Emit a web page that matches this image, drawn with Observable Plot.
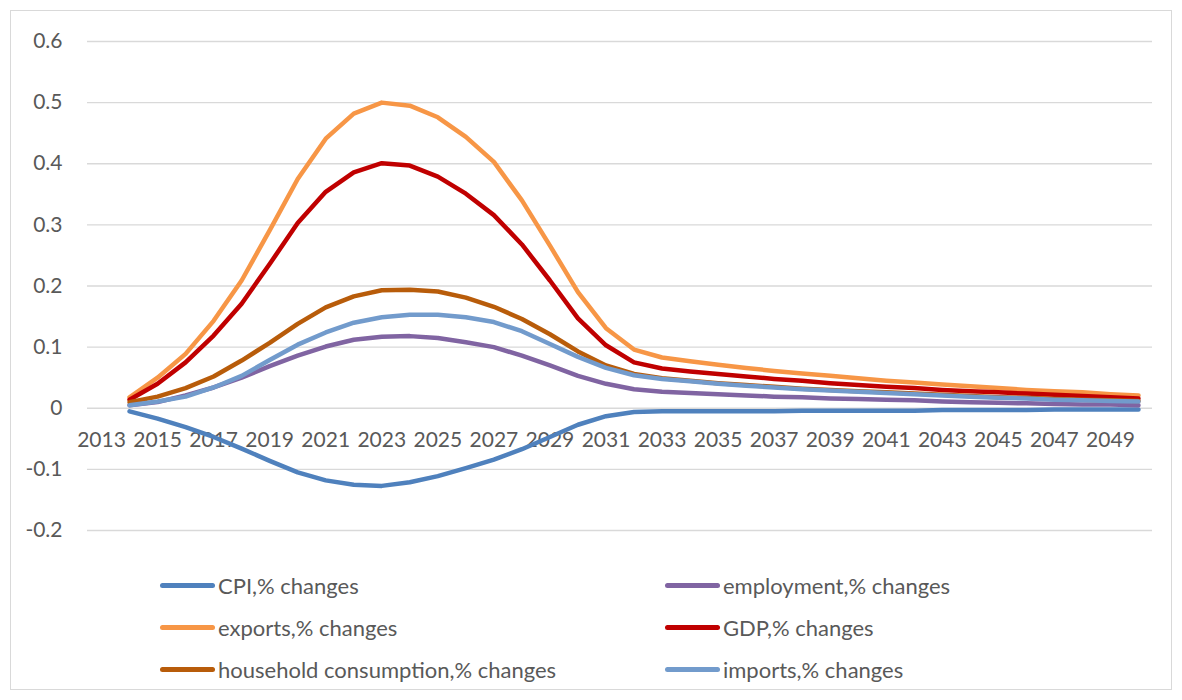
<!DOCTYPE html>
<html>
<head>
<meta charset="utf-8">
<script src="https://cdn.jsdelivr.net/npm/d3@7"></script>
<script src="https://cdn.jsdelivr.net/npm/@observablehq/plot@0.6"></script>
<style>
  body { margin: 0; background: #fff; font-family: Lato, "Open Sans", sans-serif; }
  #frame { position: absolute; left: 10px; top: 10px; width: 1160px; height: 678px; border: 1px solid #d9d9d9; }
  #chart { position: absolute; left: 0; top: 0; }
  .item { position: absolute; display: flex; align-items: center; font-size: 22px; color: #595959; white-space: nowrap; }
  .sw { width: 55px; height: 5px; border-radius: 3px; margin-right: 3px; }
</style>
</head>
<body>
<div id="frame"></div>
<div id="chart"></div>
<div id="legend"></div>
<script>
const years = [2014,2015,2016,2017,2018,2019,2020,2021,2022,2023,2024,2025,2026,2027,2028,2029,2030,2031,2032,
               2033,2034,2035,2036,2037,2038,2039,2040,2041,2042,2043,2044,2045,2046,2047,2048,2049,2050];
const xTickLabels = [2013,2015,2017,2019,2021,2023,2025,2027,2029,2031,2033,2035,2037,2039,2041,2043,2045,2047,2049];
const yTicks = [-0.2,-0.1,0,0.1,0.2,0.3,0.4,0.5,0.6];

const seriesNames = ["CPI,% changes","employment,% changes","exports,% changes","GDP,% changes","household consumption,% changes","imports,% changes"];
const seriesColors = ["#4F81BD","#8064A2","#F79646","#C00000","#B85C0A","#729BCC"];

const cpi = [-0.005,-0.017,-0.031,-0.047,-0.066,-0.086,-0.105,-0.118,-0.125,-0.127,-0.121,-0.111,-0.098,-0.084,-0.067,-0.047,-0.027,-0.013,-0.006,
             -0.005,-0.005,-0.005,-0.005,-0.005,-0.004,-0.004,-0.004,-0.004,-0.004,-0.003,-0.003,-0.003,-0.003,-0.002,-0.002,-0.002,-0.002];
const employment = [0.005,0.010,0.021,0.034,0.050,0.069,0.086,0.101,0.112,0.117,0.118,0.115,0.108,0.100,0.086,0.070,0.053,0.040,0.031,
             0.027,0.025,0.023,0.021,0.019,0.018,0.016,0.015,0.014,0.013,0.011,0.010,0.009,0.008,0.007,0.006,0.006,0.005];
const exportsS = [0.018,0.050,0.089,0.143,0.209,0.291,0.375,0.441,0.482,0.500,0.495,0.476,0.444,0.403,0.340,0.266,0.190,0.131,0.096,
             0.083,0.077,0.071,0.066,0.061,0.057,0.053,0.049,0.045,0.042,0.039,0.036,0.033,0.030,0.028,0.026,0.023,0.021];
const gdp = [0.014,0.040,0.075,0.119,0.171,0.236,0.303,0.354,0.386,0.401,0.397,0.379,0.351,0.316,0.268,0.209,0.147,0.103,0.075,
             0.065,0.060,0.056,0.052,0.048,0.045,0.041,0.038,0.035,0.033,0.030,0.028,0.026,0.024,0.022,0.020,0.018,0.016];
const household = [0.010,0.019,0.033,0.052,0.078,0.107,0.138,0.165,0.183,0.193,0.194,0.191,0.181,0.166,0.146,0.121,0.093,0.070,0.056,
             0.049,0.045,0.041,0.038,0.035,0.032,0.030,0.028,0.026,0.024,0.022,0.020,0.018,0.017,0.015,0.014,0.013,0.012];
const imports = [0.005,0.011,0.019,0.034,0.053,0.079,0.104,0.124,0.140,0.149,0.153,0.153,0.149,0.141,0.126,0.105,0.084,0.066,0.054,
             0.048,0.044,0.040,0.037,0.034,0.031,0.029,0.027,0.025,0.023,0.021,0.019,0.017,0.016,0.014,0.013,0.012,0.011];

const seriesValues = [cpi, employment, exportsS, gdp, household, imports];
const rows = [];
seriesNames.forEach((name, i) => {
  years.forEach((yr, j) => rows.push({series: name, year: yr, value: seriesValues[i][j]}));
});

const font = "Lato, 'Open Sans', sans-serif";
const chart = Plot.plot({
  width: 1182,
  height: 560,
  marginLeft: 87,
  marginRight: 30,
  marginTop: 41,
  marginBottom: 30,
  style: {fontFamily: font, fontSize: "21px", color: "#595959", background: "transparent"},
  x: {domain: [2012.5, 2050.5], axis: null},
  y: {domain: [-0.2, 0.6], axis: null},
  color: {domain: seriesNames, range: seriesColors},
  marks: [
    Plot.gridY(yTicks, {stroke: "#d9d9d9", strokeOpacity: 1, strokeWidth: 1.4}),
    Plot.axisY(yTicks, {tickSize: 0, tickPadding: 25, fontSize: 21, fill: "#595959", label: null,
      tickFormat: d => String(Math.round(d * 10) / 10)}),
    Plot.text(xTickLabels, {x: d => d, y: 0, dy: 32, text: d => String(d), fill: "#595959", fontSize: 21}),
    Plot.line(rows, {x: "year", y: "value", z: "series", stroke: "series", strokeWidth: 4.5,
      strokeLinecap: "round", strokeLinejoin: "round"})
  ]
});
document.getElementById("chart").append(chart);

const legend = document.getElementById("legend");
seriesNames.forEach((name, i) => {
  const col = i % 2, row = Math.floor(i / 2);
  const item = document.createElement("div");
  item.className = "item";
  item.style.left = (col === 0 ? 160 : 665) + "px";
  item.style.top = (571 + row * 42) + "px";
  item.style.height = "28px";
  const sw = document.createElement("div");
  sw.className = "sw";
  sw.style.background = seriesColors[i];
  const tx = document.createElement("span");
  tx.textContent = name;
  item.append(sw, tx);
  legend.append(item);
});
</script>
</body>
</html>
